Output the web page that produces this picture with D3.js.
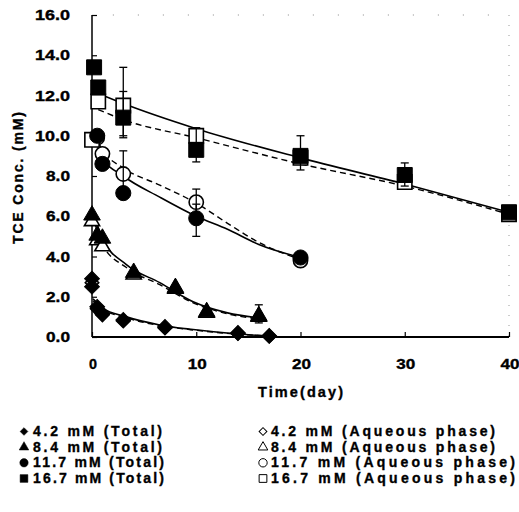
<!DOCTYPE html>
<html>
<head>
<meta charset="utf-8">
<script src="https://cdnjs.cloudflare.com/ajax/libs/d3/7.8.5/d3.min.js"></script>
<style>
  body { margin: 0; background: #fff; }
  svg { display: block; }
  text { font-family: "Liberation Sans", Arial, sans-serif; font-weight: bold; fill: #000; stroke: #000; stroke-width: 0.35px; }
</style>
</head>
<body>
<div id="chart"></div>
<script>
// values: time (day) and TCE conc. (mM)
var xTicks = [0, 10, 20, 30, 40];
var yTicks = [0, 2, 4, 6, 8, 10, 12, 14, 16];

var total42T = [0, 0, 0.5, 1, 3, 7, 14, 17];
var total42C = [2.9, 2.5, 1.5, 1.15, 0.85, 0.5, 0.2, 0.05];
var aq42T = [0, 0.5, 1, 3, 7, 14, 17];
var aq42C = [2.7, 1.4, 1.1, 0.8, 0.45, 0.18, 0.05];

var total84T = [0, 0.5, 1, 4, 8, 11, 16];
var total84C = [6.05, 5.05, 4.9, 3.2, 2.45, 1.25, 1.05];
var aq84T = [0, 0.5, 1, 4, 8, 11, 16];
var aq84C = [5.75, 4.8, 4.5, 3.1, 2.4, 1.2, 1.0];

var total117T = [0.5, 1, 3, 10, 20];
var total117C = [10.0, 8.6, 7.15, 5.9, 3.95];
var aq117T = [0.5, 1, 3, 10, 20];
var aq117C = [9.9, 9.1, 8.1, 6.7, 3.8];

var total167T = [0.2, 0.6, 3, 10, 20, 30, 40];
var total167C = [13.4, 12.4, 10.9, 9.3, 9.0, 8.05, 6.2];
var aq167T = [0, 0.6, 3, 10, 20, 30, 40];
var aq167C = [9.8, 11.7, 11.5, 10.0, 8.9, 7.7, 6.1];

// error bars [time, low, high]
var errTotal = [[3, 10.0, 12.2], [10, 8.7, 10.4], [20, 8.3, 10.0], [30, 7.5, 8.65],
                [10, 5.0, 6.6], [16, 0.7, 1.6]];
var errAq = [[3, 9.9, 13.4], [3, 7.3, 9.25], [10, 6.0, 7.35]];

// fitted curves as they appear in the picture [time, conc]
var fitTotal42 = [[0.1, 1.9], [1, 1.45], [3.3, 1.0], [6.5, 0.6], [9.7, 0.37], [14, 0.15], [17, 0.05]];
var fitAq42 = [[0.1, 1.8], [1, 1.4], [3.3, 0.95], [6.5, 0.57], [9.7, 0.35], [14, 0.14], [17, 0.05]];
var fitTotal84 = [[0.3, 5.9], [1, 4.9], [3.3, 3.6], [6.5, 2.7], [9.7, 1.75], [13, 1.2], [16, 0.95]];
var fitAq84 = [[0.3, 5.6], [1, 4.6], [3.3, 3.45], [6.5, 2.6], [9.7, 1.7], [13, 1.15], [16, 0.9]];
var fitTotal117 = [[0.3, 9.9], [1, 8.9], [3, 8.0], [6.5, 6.95], [10, 6.0], [13, 5.35], [16, 4.6], [20, 3.95]];
var fitAq117 = [[0.3, 10.0], [1, 9.3], [3, 8.4], [6.5, 7.55], [10, 6.65], [13, 5.65], [16, 4.7], [20, 3.85]];
var fitTotal167 = [[0.6, 12.1], [3, 11.6], [10, 10.35], [20, 8.9], [30, 7.6], [40, 6.2]];
var fitAq167 = [[0.6, 11.3], [3, 10.8], [10, 9.9], [20, 8.6], [30, 7.5], [40, 6.1]];

var legendLeft = ["4.2 mM (Total)", "8.4 mM (Total)", "11.7 mM (Total)", "16.7 mM (Total)"];
var legendRight = ["4.2 mM (Aqueous phase)", "8.4 mM (Aqueous phase)",
                   "11.7 mM (Aqueous phase)", "16.7 mM (Aqueous phase)"];

var width = 519, height = 512;
var svg = d3.select("#chart").append("svg")
    .attr("width", width)
    .attr("height", height);

var x = d3.scaleLinear().domain([0, 40]).range([92, 509]);
var y = d3.scaleLinear().domain([0, 16]).range([337, 15]);

function zip(ts, cs) { return ts.map(function(t, i) { return [t, cs[i]]; }); }

var shapes = [
  {type: d3.symbolSquare, size: 110, rot: 45},   // diamond
  {type: d3.symbolTriangle, size: 120, rot: 0},
  {type: d3.symbolCircle, size: 180, rot: 0},
  {type: d3.symbolSquare, size: 225, rot: 0}
];

var totals = [zip(total42T, total42C), zip(total84T, total84C), zip(total117T, total117C), zip(total167T, total167C)];
var aqueous = [zip(aq42T, aq42C), zip(aq84T, aq84C), zip(aq117T, aq117C), zip(aq167T, aq167C)];
var fitsTotal = [fitTotal42, fitTotal84, fitTotal117, fitTotal167];
var fitsAq = [fitAq42, fitAq84, fitAq117, fitAq167];

// faint dotted frame remnants on top and right
svg.append("line")
    .attr("x1", x(2)).attr("x2", x(40)).attr("y1", y(16)).attr("y2", y(16))
    .attr("stroke", "#888").attr("stroke-width", 1).attr("stroke-dasharray", "1,24");
svg.append("line")
    .attr("x1", x(40)).attr("x2", x(40)).attr("y1", y(16)).attr("y2", y(0))
    .attr("stroke", "#999").attr("stroke-width", 1).attr("stroke-dasharray", "1,9");

// axes
var yAxis = d3.axisRight(y).tickValues(yTicks).tickSize(5).tickFormat("");
svg.append("g")
    .attr("transform", "translate(" + x(0) + ",0)")
    .call(yAxis)
    .call(function(g) {
      g.select(".domain").attr("stroke-width", 1.5).attr("d", "M0," + y(16) + "V" + y(0));
      g.selectAll(".tick line").attr("stroke-width", 1.2);
    });

var xAxis = d3.axisTop(x).tickValues(xTicks).tickSize(5).tickFormat("");
svg.append("g")
    .attr("transform", "translate(0," + y(0) + ")")
    .call(xAxis)
    .call(function(g) {
      g.select(".domain").attr("stroke-width", 2).attr("d", "M" + x(0) + ",0H" + x(40));
      g.selectAll(".tick line").attr("stroke-width", 1.2);
    });

// tick labels, widths fitted to the reference
svg.append("g").selectAll("text")
    .data(yTicks)
  .enter().append("text")
    .attr("x", 70)
    .attr("y", function(d) { return y(d) + 5; })
    .attr("text-anchor", "end")
    .attr("textLength", function(d) { return d >= 10 ? 35 : 24; })
    .attr("lengthAdjust", "spacingAndGlyphs")
    .style("font-size", "14px")
    .text(function(d) { return d.toFixed(1); });

svg.append("g").selectAll("text")
    .data(xTicks)
  .enter().append("text")
    .attr("x", function(d) { return x(d) + 1; })
    .attr("y", 369)
    .attr("text-anchor", "middle")
    .attr("textLength", function(d) { return d === 0 ? 8 : 19; })
    .attr("lengthAdjust", "spacingAndGlyphs")
    .style("font-size", "14px")
    .text(function(d) { return d; });

svg.append("text")
    .attr("x", 258).attr("y", 397)
    .attr("textLength", 85)
    .attr("lengthAdjust", "spacing")
    .style("font-size", "14.5px")
    .text("Time(day)");

svg.append("text")
    .attr("transform", "translate(23,244) rotate(-90)")
    .attr("textLength", 132)
    .attr("lengthAdjust", "spacing")
    .style("font-size", "14px")
    .text("TCE Conc. (mM)");

// fitted lines
var line = d3.line()
    .x(function(d) { return x(d[0]); })
    .y(function(d) { return y(d[1]); })
    .curve(d3.curveMonotoneX);

svg.append("g").selectAll("path")
    .data(fitsAq)
  .enter().append("path")
    .attr("d", line)
    .attr("fill", "none")
    .attr("stroke", "#000")
    .attr("stroke-width", 1.4)
    .attr("stroke-dasharray", "6,4");

svg.append("g").selectAll("path")
    .data(fitsTotal)
  .enter().append("path")
    .attr("d", line)
    .attr("fill", "none")
    .attr("stroke", "#000")
    .attr("stroke-width", 1.6);

// markers: open first, filled on top
function drawMarkers(sets, filled) {
  sets.forEach(function(pts, i) {
    var s = shapes[i];
    svg.append("g").selectAll("path")
        .data(pts)
      .enter().append("path")
        .attr("transform", function(d) {
          return "translate(" + x(d[0]) + "," + y(d[1]) + ") rotate(" + s.rot + ")";
        })
        .attr("d", d3.symbol().type(s.type).size(filled ? s.size : s.size - 20))
        .attr("fill", filled ? "#000" : "#fff")
        .attr("stroke", "#000")
        .attr("stroke-width", filled ? 1 : 1.6);
  });
}
drawMarkers(aqueous, false);
drawMarkers(totals, true);

// error bars
var errs = errTotal.concat(errAq);
var eg = svg.append("g").attr("stroke", "#000").attr("stroke-width", 1.3);
errs.forEach(function(e) {
  var cx = x(e[0]);
  eg.append("line").attr("x1", cx).attr("x2", cx).attr("y1", y(e[1])).attr("y2", y(e[2]));
  eg.append("line").attr("x1", cx - 4).attr("x2", cx + 4).attr("y1", y(e[1])).attr("y2", y(e[1]));
  eg.append("line").attr("x1", cx - 4).attr("x2", cx + 4).attr("y1", y(e[2])).attr("y2", y(e[2]));
});

// legend
var legendShapes = [
  {type: d3.symbolSquare, size: 30, rot: 45},
  {type: d3.symbolTriangle, size: 40, rot: 0},
  {type: d3.symbolCircle, size: 55, rot: 0},
  {type: d3.symbolSquare, size: 60, rot: 0}
];
var rowY = [436, 451.7, 467.3, 483];
var leftLen = [129, 129, 131, 131];
var rightLen = [224, 224, 244, 244];

function drawLegend(labels, sx, tx, filled, lens) {
  var g = svg.append("g");
  labels.forEach(function(label, i) {
    var s = legendShapes[i];
    g.append("path")
        .attr("transform", "translate(" + sx + "," + (rowY[i] - 4.5) + ") rotate(" + s.rot + ")")
        .attr("d", d3.symbol().type(s.type).size(s.size))
        .attr("fill", filled ? "#000" : "#fff")
        .attr("stroke", "#000")
        .attr("stroke-width", filled ? 0.5 : 1);
    g.append("text")
        .attr("x", tx)
        .attr("y", rowY[i])
        .attr("textLength", lens[i])
        .attr("lengthAdjust", "spacing")
        .style("font-size", "14px")
        .text(label);
  });
}
drawLegend(legendLeft, 24, 33, true, leftLen);
drawLegend(legendRight, 263, 271, false, rightLen);
</script>
</body>
</html>
